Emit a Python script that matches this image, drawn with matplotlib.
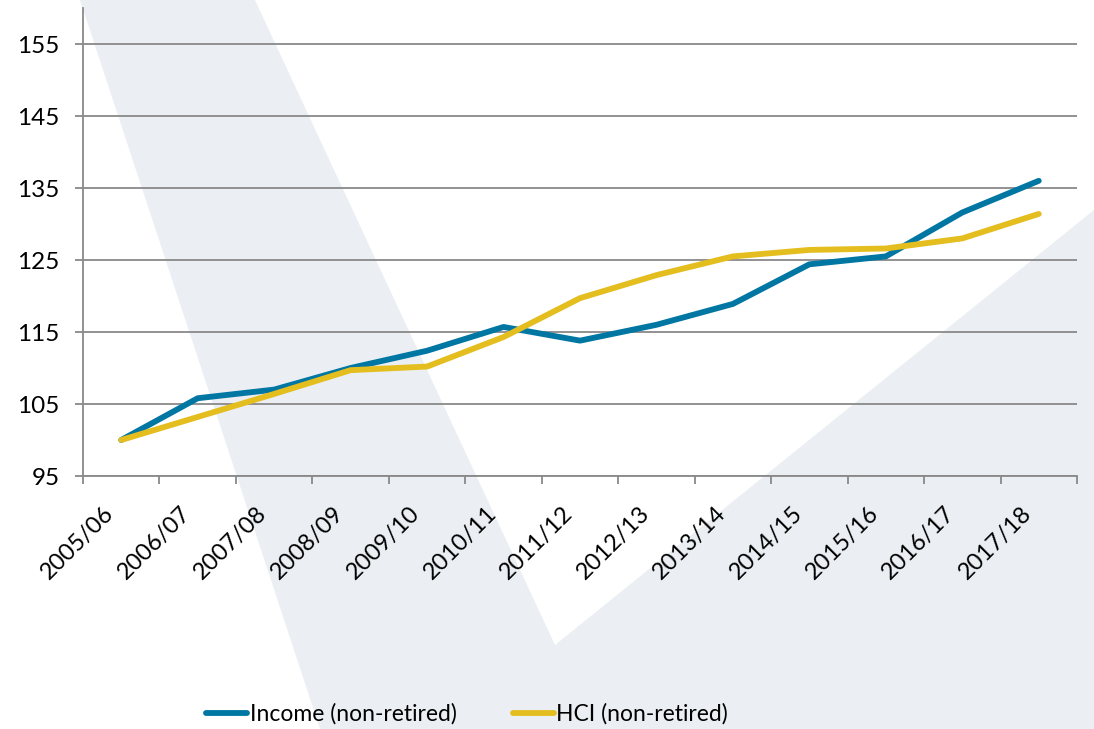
import matplotlib.pyplot as plt
import matplotlib.transforms as mtransforms
from matplotlib.patches import Polygon
import numpy as np

years = ["2005/06", "2006/07", "2007/08", "2008/09", "2009/10", "2010/11", "2011/12",
         "2012/13", "2013/14", "2014/15", "2015/16", "2016/17", "2017/18"]
income = [100.0, 105.8, 107.0, 110.0, 112.4, 115.7, 113.8, 116.0, 118.9, 124.4, 125.5, 131.6, 136.0]
hci = [100.0, 103.2, 106.4, 109.7, 110.2, 114.3, 119.7, 122.9, 125.5, 126.4, 126.6, 128.0, 131.4]
yticks = [95, 105, 115, 125, 135, 145, 155]

blue = "#0076A3"
gold = "#E4BD1F"
grid_col = "#898989"

plt.rcParams["font.family"] = ["Lato", "DejaVu Sans"]

W, H = 1094, 729
fig = plt.figure(figsize=(W / 100, H / 100), dpi=100)

# faint watermark behind the chart (pixel coords of the picture)
mark = [(80, 0), (255, 0), (555, 645), (1094, 210), (1094, 729), (320, 729)]
fig.patches.append(Polygon([(x / W, 1 - y / H) for x, y in mark], closed=True,
                           transform=fig.transFigure, facecolor="#EBEFF3",
                           edgecolor="none", zorder=-10))

ax = fig.add_axes([83 / W, 1 - 476 / H, (1077 - 83) / W, (476 - 8) / H])
ax.patch.set_alpha(0)

x = np.arange(len(years))
ax.plot(x, income, color=blue, lw=4.2, solid_capstyle="round", solid_joinstyle="round",
        label="Income (non-retired)", zorder=3)
ax.plot(x, hci, color=gold, lw=4.2, solid_capstyle="round", solid_joinstyle="round",
        label="HCI (non-retired)", zorder=3)

ax.set_xlim(-0.5, len(years) - 0.5)
ax.set_ylim(95, 160)
ax.set_yticks(yticks)
ax.yaxis.grid(True, color=grid_col, lw=1.3)
ax.set_axisbelow(True)

for s in ["top", "right"]:
    ax.spines[s].set_visible(False)
for s in ["left", "bottom"]:
    ax.spines[s].set_color(grid_col)
    ax.spines[s].set_linewidth(1.3)

ax.tick_params(axis="y", length=6, width=1.3, color=grid_col, pad=11, labelsize=17.5)

# ticks at category boundaries, labels at category centres
ax.set_xticks(np.arange(len(years) + 1) - 0.5)
ax.set_xticklabels([])
ax.tick_params(axis="x", which="major", length=6, width=1.3, color=grid_col)
ax.set_xticks(x, minor=True)
ax.set_xticklabels(years, minor=True, rotation=45, ha="right", va="top",
                   rotation_mode="anchor", fontsize=17)
ax.tick_params(axis="x", which="minor", length=0, pad=19)
offset = mtransforms.ScaledTranslation(-18 / 100, 0, fig.dpi_scale_trans)
for lbl in ax.get_xticklabels(minor=True):
    lbl.set_transform(lbl.get_transform() + offset)

fig.legend(loc="center left", bbox_to_anchor=(206 / W, 1 - 714 / H), ncol=2,
           frameon=False, fontsize=16.5, handlelength=1.8, handletextpad=0.1,
           columnspacing=2.45, borderpad=0, borderaxespad=0)

fig.savefig("out.png", dpi=100)
